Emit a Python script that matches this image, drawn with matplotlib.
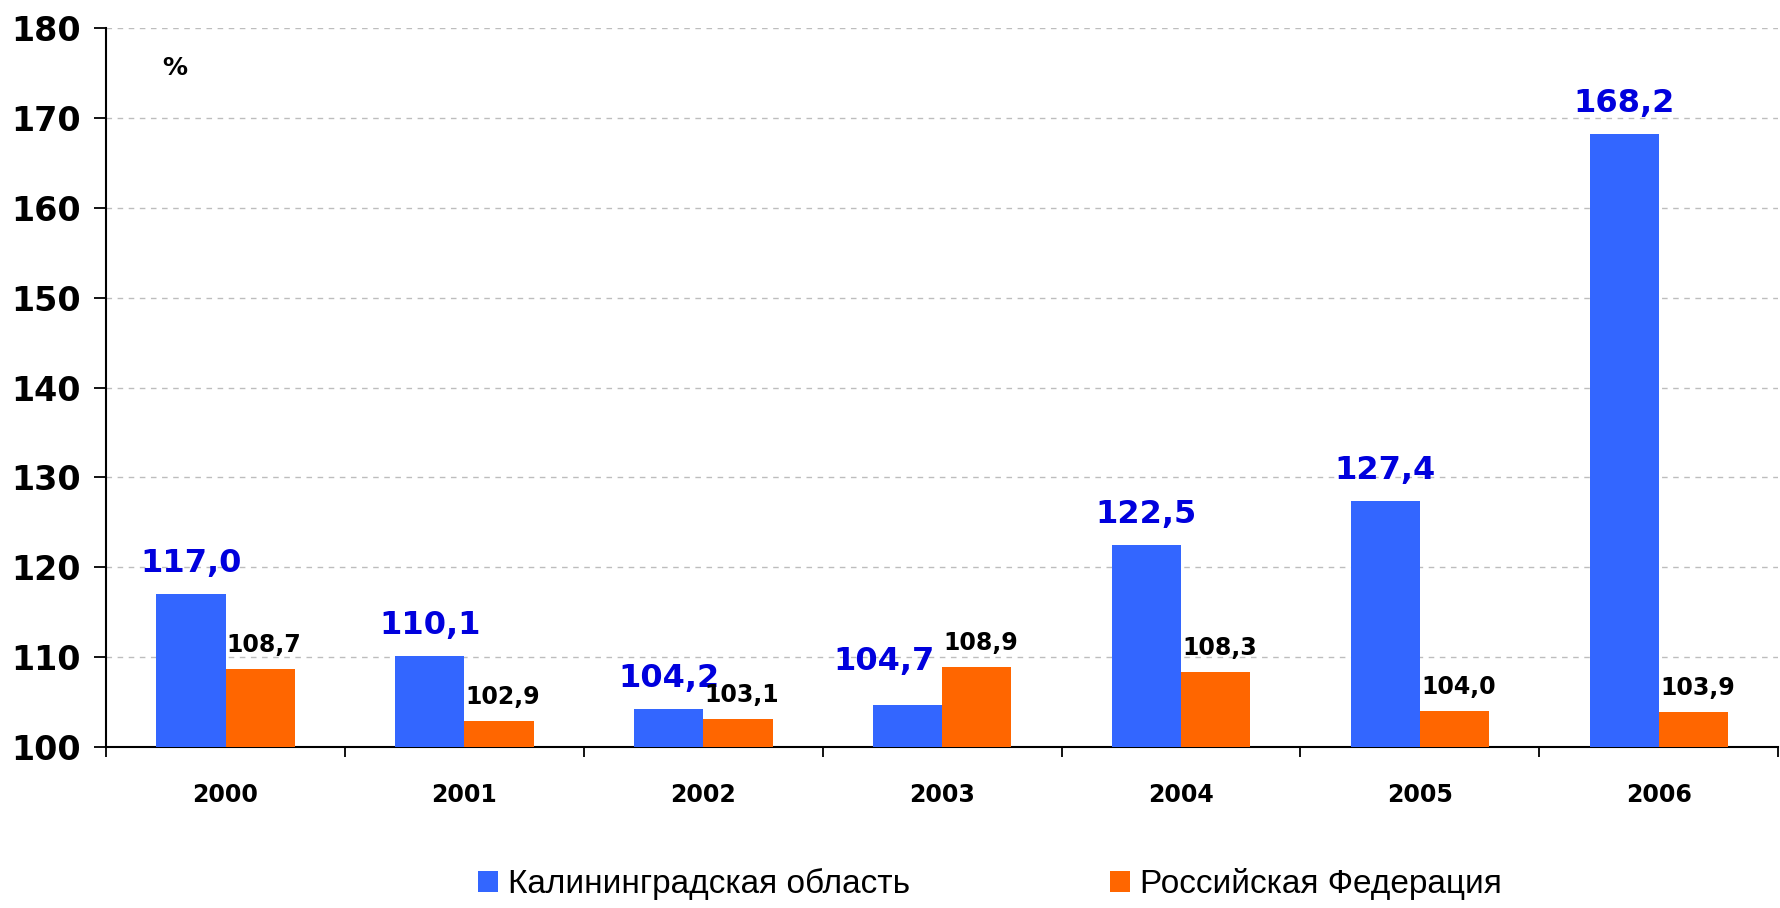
import matplotlib.pyplot as plt
import numpy as np

plt.rcParams["font.family"] = ["DejaVu Sans"]

years = ["2000", "2001", "2002", "2003", "2004", "2005", "2006"]
kaliningrad = [117.0, 110.1, 104.2, 104.7, 122.5, 127.4, 168.2]
russia = [108.7, 102.9, 103.1, 108.9, 108.3, 104.0, 103.9]
labels = ["Калининградская область", "Российская Федерация"]

fig = plt.figure(figsize=(17.8, 9.08), dpi=100)
ax = fig.add_axes([0.0596, 0.1773, 0.9394, 0.7917])

x = np.arange(len(years))
w = 0.29
b1 = ax.bar(x - w / 2, [v - 100 for v in kaliningrad], w, bottom=100, color="#3366FF", label=labels[0], zorder=3)
b2 = ax.bar(x + w / 2, [v - 100 for v in russia], w, bottom=100, color="#FF6600", label=labels[1], zorder=3)

def fmt(v):
    return f"{v:.1f}".replace(".", ",")

for i, v in enumerate(kaliningrad):
    # 2003: blue label nudged left and up, it sits next to the taller orange bar
    dx, dy = (-24, 28) if v < russia[i] else (0, 15)
    ax.annotate(fmt(v), (x[i] - w / 2, v), xytext=(dx, dy), textcoords="offset pixels",
                ha="center", va="bottom", fontsize=23, fontweight="bold", color="#0000DD")
for i, v in enumerate(russia):
    ax.annotate(fmt(v), (x[i] + w / 2, v), xytext=(4, 12), textcoords="offset pixels",
                ha="center", va="bottom", fontsize=17, fontweight="bold", color="black")

ax.set_ylim(100, 180)
ax.set_yticks(range(100, 181, 10))
ax.set_xlim(-0.5, len(years) - 0.5)
ax.set_xticks(x)
ax.set_xticklabels(years, fontsize=17, fontweight="bold")
ax.set_xticks(np.arange(-0.5, len(years), 1), minor=True)
ax.tick_params(axis="x", which="major", length=0, pad=26)
ax.tick_params(axis="x", which="minor", length=7, width=1.3, direction="out")
ax.tick_params(axis="y", length=8.5, width=1.3, pad=10, labelsize=24)
for t in ax.get_yticklabels():
    t.set_fontweight("bold")

ax.yaxis.grid(True, linestyle=(0, (4, 4)), color="#bdbdbd", linewidth=1, zorder=0)
for s in ["top", "right"]:
    ax.spines[s].set_visible(False)
for s in ["left", "bottom"]:
    ax.spines[s].set_linewidth(1.5)

fig.text(0.098, 0.925, "%", fontsize=18, fontweight="bold", ha="center", va="center")

fig.legend(handles=[b1, b2], loc="center", bbox_to_anchor=(0.556, 0.026), ncol=2, frameon=False,
           prop={"family": ["Liberation Sans", "DejaVu Sans"], "size": 24},
           handlelength=0.6, handleheight=0.6, handletextpad=0.3, columnspacing=6.0)

fig.savefig("out.png", dpi=100)
